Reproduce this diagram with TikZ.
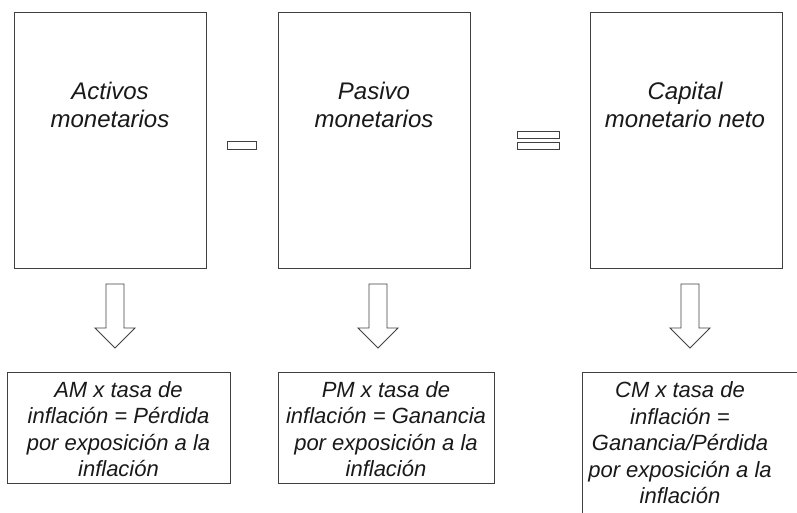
\documentclass[tikz,border=0pt]{standalone}
\usepackage{fontspec}
\setmainfont{Liberation Sans}
\begin{document}
\begin{tikzpicture}[x=1pt,y=-1pt,
  bigbox/.style={draw=black!75, line width=1pt, fill=white},
  sym/.style={draw=black!75, line width=0.9pt},
  toptext/.style={inner sep=0pt, align=center, font=\fontsize{24}{28}\selectfont\itshape, text=black!90},
  bottext/.style={inner sep=0pt, align=center, font=\fontsize{22}{26.5}\selectfont\itshape, text=black!90},
  hollowarrow/.style={draw=black!75, line width=0.9pt, line join=miter}
]
\useasboundingbox (0,0) rectangle (797,512);
\clip (0,0) rectangle (797,512);
% top boxes
\draw[bigbox] (14,12) rectangle (206,268) coordinate (b1se);
\coordinate (b1) at (110,140);
\draw[bigbox] (278,12) rectangle (470,268);
\coordinate (b2) at (374,140);
\draw[bigbox] (590,12) rectangle (782,268);
\coordinate (b3) at (686,140);
\node[toptext] (t1) at (110,105) {Activos\\monetarios};
\node[toptext] (t2) at (374,105) {Pasivo\\monetarios};
\node[toptext] (t3) at (685,105) {Capital\\monetario neto};
% minus and equals
\draw[sym] (227,141) rectangle (256,149);
\draw[sym] (517,131) rectangle (559,138);
\draw[sym] (517,142) rectangle (559,149);
% arrows
\foreach \cx/\nm in {115/a1,378/a2,690/a3}{
  \coordinate (\nm) at (\cx,284);
  \draw[hollowarrow] (\cx-9,284) -- (\cx+9,284) -- (\cx+9,328) -- (\cx+20,328)
     -- (\cx,348) -- (\cx-20,328) -- (\cx-9,328) -- cycle;
}
% bottom boxes
\draw[bigbox] (7,372) rectangle (230,483);
\draw[bigbox] (278,372) rectangle (494,483);
\draw[bigbox] (582,372) rectangle (810,530);
\node[bottext] (c1) at (118.5,429) {AM x tasa de\\inflación = Pérdida\\por exposición a la\\inflación};
\node[bottext] (c2) at (386,429) {PM x tasa de\\inflación = Ganancia\\por exposición a la\\inflación};
\node[bottext] (c3) at (680,443) {CM x tasa de\\inflación =\\Ganancia/Pérdida\\por exposición a la\\inflación};
\end{tikzpicture}
\end{document}
